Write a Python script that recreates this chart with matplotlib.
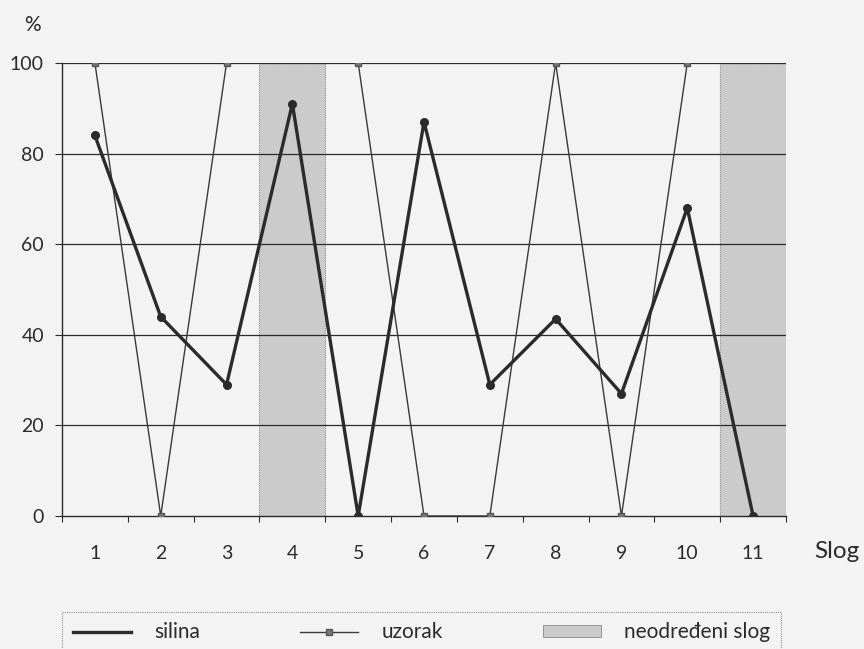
import matplotlib.pyplot as plt
import numpy as np
from matplotlib.lines import Line2D
from matplotlib.patches import Patch

slogovi = ["1", "2", "3", "4", "5", "6", "7", "8", "9", "10", "11"]
silina = [84, 44, 29, 91, 0, 87, 29, 43.5, 27, 68, 0]
uzorak = [100, 0, 100, np.nan, 100, 0, 0, 100, 0, 100, np.nan]
neodredeni = ["4", "11"]
y_ticks = [0, 20, 40, 60, 80, 100]

plt.rcParams["font.family"] = ["Lato", "DejaVu Sans"]

BG = "#f3f3f3"
INK = "#2b2b2b"
SHADE = "#cbcbcb"

fig = plt.figure(figsize=(8.64, 6.49), dpi=100, facecolor=BG)
ax = fig.add_axes([62 / 864, 1 - 516 / 649, 724 / 864, 453 / 649])
ax.set_facecolor(BG)

x = np.arange(1, len(slogovi) + 1)

for label in neodredeni:
    pos = slogovi.index(label) + 1
    ax.axvspan(pos - 0.5, pos + 0.5, facecolor=SHADE, edgecolor="#8a8a8a",
               linestyle=(0, (1, 1)), linewidth=0.8, zorder=0.5)

for value in y_ticks[1:]:
    ax.axhline(value, color=INK, linewidth=0.9, zorder=1)

ax.plot(x, uzorak, color="#3a3a3a", linewidth=1.0, marker="s", markersize=4,
        markerfacecolor="#777777", markeredgecolor="#555555", zorder=3)
ax.plot(x, silina, color=INK, linewidth=2.4, marker="o", markersize=5.5,
        markerfacecolor=INK, markeredgecolor=INK, zorder=4)

ax.set_xlim(0.5, len(slogovi) + 0.5)
ax.set_ylim(0, 100)

ax.set_xticks(x)
ax.set_xticklabels(slogovi)
ax.set_xticks(np.arange(0.5, len(slogovi) + 1), minor=True)
ax.tick_params(axis="x", which="major", length=0, pad=21, labelsize=14, colors=INK)
ax.tick_params(axis="x", which="minor", length=4, width=0.8, direction="out", colors=INK)

ax.set_yticks(y_ticks)
ax.tick_params(axis="y", length=5, width=0.8, pad=8, labelsize=14, colors=INK)

for side in ["top", "right"]:
    ax.spines[side].set_visible(False)
ax.spines["left"].set_color(INK)
ax.spines["bottom"].set_color(INK)
ax.spines["left"].set_linewidth(1.0)
ax.spines["bottom"].set_linewidth(1.0)

fig.text(32 / 864, 1 - 25 / 649, "%", ha="center", va="center", fontsize=15, color=INK)
fig.text(837 / 864, 1 - 552 / 649, "Slog", ha="center", va="center", fontsize=17.5, color=INK)

handles = [
    Line2D([], [], color=INK, linewidth=2.4),
    Line2D([], [], color="#3a3a3a", linewidth=1.0, marker="s", markersize=4,
           markerfacecolor="#777777", markeredgecolor="#555555"),
    Patch(facecolor=SHADE, edgecolor="#8a8a8a", linewidth=0.6),
]
leg = fig.legend(handles, ["silina", "uzorak", "neodređeni slog"], ncol=3,
                 loc="lower left", bbox_to_anchor=(58 / 864, -0.012, 727 / 864, 0.07),
                 mode="expand", fontsize=15, handlelength=2.8, handleheight=0.5,
                 handletextpad=1.1, frameon=True, fancybox=False, borderpad=0.5,
                 borderaxespad=0.2, labelcolor=INK)
leg.get_frame().set_facecolor(BG)
leg.get_frame().set_edgecolor("#777777")
leg.get_frame().set_linestyle((0, (1, 1)))
leg.get_frame().set_linewidth(0.8)

fig.savefig("out.png", dpi=100, facecolor=BG)
